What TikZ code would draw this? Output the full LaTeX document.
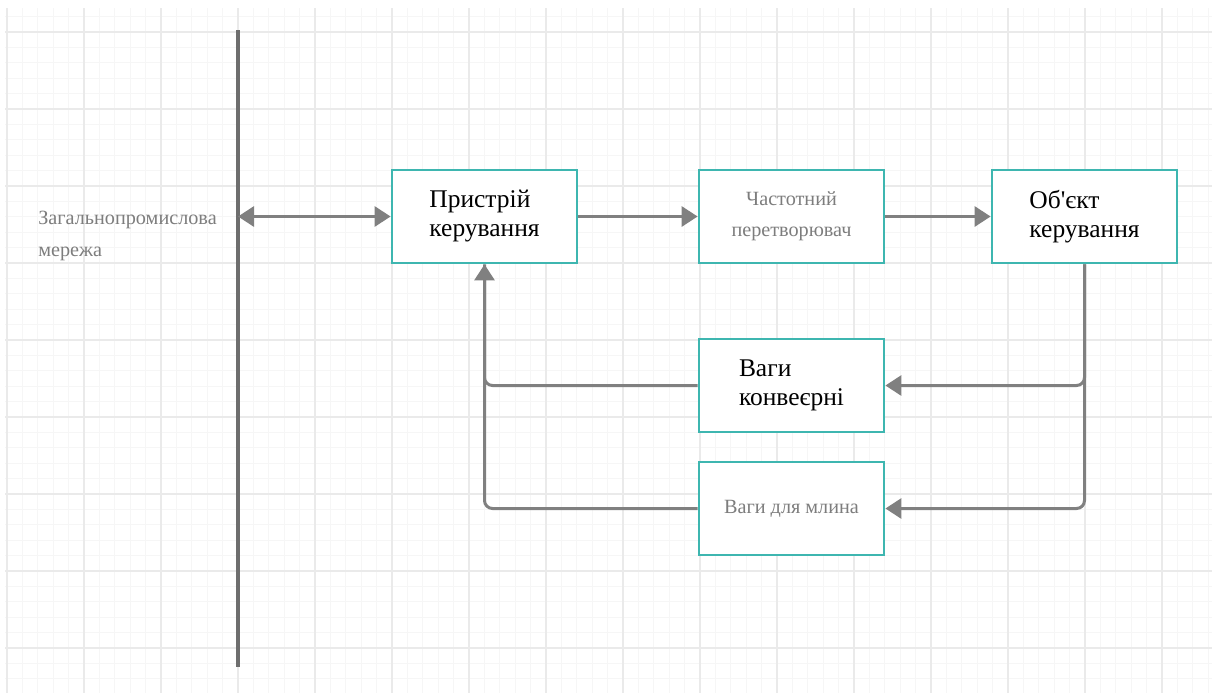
\documentclass[tikz,border=0pt]{standalone}
\usepackage{fontspec}
\setmainfont{Liberation Serif}
\usetikzlibrary{arrows.meta,calc}

\definecolor{boxteal}{RGB}{62,182,176}
\definecolor{linkgray}{RGB}{128,128,128}
\definecolor{busgray}{RGB}{110,110,110}
\definecolor{labelgray}{RGB}{125,125,125}
\definecolor{gridminor}{RGB}{246,246,246}
\definecolor{gridmajor}{RGB}{234,234,234}

\begin{document}
\begin{tikzpicture}[
    x=0.02cm, y=-0.02cm,
    >={Triangle[length=0.32cm,width=0.4cm]},
    box/.style={draw=boxteal,line width=1.6pt,fill=white,minimum width=3.7cm,minimum height=1.86cm,inner sep=0pt},
    boxb/.style={box,align=left,font=\fontsize{14.5}{16.5}\selectfont},
    boxg/.style={box,align=center,text=labelgray,font=\fontsize{11.5}{17.5}\selectfont},
    link/.style={draw=linkgray,line width=1.7pt},
    fbline/.style={link,rounded corners=0.16cm},
  ]

  \useasboundingbox (0,0) rectangle (1212,693);
  \fill[white] (0,0) rectangle (1212,693);

  % grid paper

  \foreach \i in {0,...,78}
    \draw[gridminor,line width=0.5pt] ({7+15.4*\i},8) -- ({7+15.4*\i},693);
  \foreach \j in {0,...,43}
    \draw[gridminor,line width=0.5pt] (5,{16.6+15.4*\j}) -- (1212,{16.6+15.4*\j});
  \foreach \i in {0,...,15}
    \draw[gridmajor,line width=0.6pt] ({7+77*\i},8) -- ({7+77*\i},693);
  \foreach \j in {0,...,8}
    \draw[gridmajor,line width=0.6pt] (5,{32+77*\j}) -- (1212,{32+77*\j});

  % network bus

  \coordinate (bus-top) at (238,30);
  \coordinate (bus-bot) at (238,667);
  \coordinate (bus-pk) at (238,216.5);

  \draw[draw=busgray,line width=2pt] (bus-top) -- (bus-bot);

  \node (net) at (38,236) [anchor=west,inner sep=0pt,align=left,text=labelgray,
    font=\fontsize{11.5}{18}\selectfont] {Загальнопромислова\\мережа};

  % main chain

  \node (pk) at (484.5,216.5) [boxb] {Пристрій\\керування};
  \node (fc) at (791.5,216.5) [boxg] {Частотний\\перетворювач};
  \node (ob) at (1084.5,216.5) [boxb] {Об\textquotesingle єкт\\керування};

  \draw[link,<->] (bus-pk) -- (pk.west);
  \draw[link,->] (pk) -- (fc);
  \draw[link,->] (fc) -- (ob);

  % scales and feedback

  \node (vk) at (791.5,385.5) [boxb] {Ваги\\конвеєрні};
  \node (vm) at (791.5,508.5) [boxg] {Ваги для млина};

  \draw[fbline,->] (ob.south) |- (vk.east);
  \draw[fbline,->] (ob.south) |- (vm.east);

  \draw[fbline,->] (vk.west) -| (pk.south);
  \draw[fbline] (vm.west) -| (pk.south);

\end{tikzpicture}
\end{document}
